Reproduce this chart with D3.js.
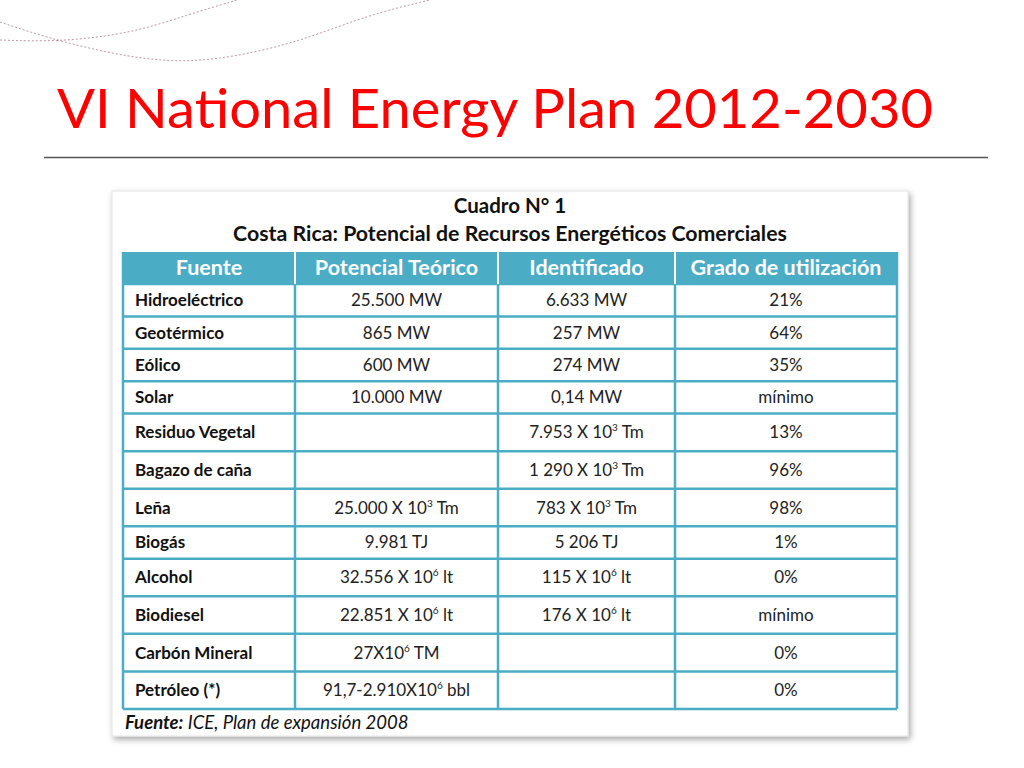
<!DOCTYPE html>
<html><head><meta charset="utf-8">
<script src="https://cdn.jsdelivr.net/npm/d3@7"></script>
<style>body{margin:0;background:#fff}svg{display:block}</style>
</head><body><div id="chart"></div>
<script>
const pageTitle = "VI National Energy Plan 2012-2030";
const cardTitle = "Cuadro N° 1";
const cardSubtitle = "Costa Rica: Potencial de Recursos Energéticos Comerciales";
const headers = ["Fuente", "Potencial Teórico", "Identificado", "Grado de utilización"];
const fuentes = ["Hidroeléctrico","Geotérmico","Eólico","Solar","Residuo Vegetal","Bagazo de caña","Leña","Biogás","Alcohol","Biodiesel","Carbón Mineral","Petróleo (*)"];
const potencialTeorico = ["25.500 MW","865 MW","600 MW","10.000 MW","","","25.000 X 10^3 Tm","9.981 TJ","32.556 X 10^6 lt","22.851 X 10^6 lt","27X10^6 TM","91,7-2.910X10^6 bbl"];
const identificado = ["6.633 MW","257 MW","274 MW","0,14 MW","7.953 X 10^3 Tm","1 290 X 10^3 Tm","783 X 10^3 Tm","5 206 TJ","115 X 10^6 lt","176 X 10^6 lt","",""];
const gradoUtilizacion = ["21%","64%","35%","mínimo","13%","96%","98%","1%","0%","mínimo","0%","0%"];
const sourceBold = "Fuente:";
const sourceText = " ICE, Plan de expansión 2008";

const W = 1024, H = 768;
const svg = d3.select("#chart").append("svg").attr("width", W).attr("height", H);
const defs = svg.append("defs");
const f = defs.append("filter").attr("id","sh").attr("x","-5%").attr("y","-5%").attr("width","112%").attr("height","112%");
f.append("feDropShadow").attr("dx",2).attr("dy",3).attr("stdDeviation",3).attr("flood-color","#000").attr("flood-opacity",0.35);

// decorative dotted curves
const deco = [
  [[0,22],[60,42],[150,62],[217,61],[300,42],[367,15],[430,0]],
  [[0,40],[60,42],[133,33],[187,15],[237,0]]
];
const line = d3.line().curve(d3.curveBasis);
svg.selectAll("path.deco").data(deco).join("path").attr("class","deco")
  .attr("d", line).attr("fill","none").attr("stroke","#b07a8c").attr("stroke-width",1)
  .attr("stroke-dasharray","2,2").attr("opacity",0.8);

// title
svg.append("text").attr("x",57).attr("y",128).attr("fill","#ff0000")
  .style("font-family","Lato, sans-serif").style("font-size","54px")
  .attr("textLength",876).attr("lengthAdjust","spacingAndGlyphs").text(pageTitle);
svg.append("line").attr("x1",44).attr("x2",988).attr("y1",157.5).attr("y2",157.5)
  .attr("stroke","#555").attr("stroke-width",1.5);

// card
svg.append("rect").attr("x",112).attr("y",191).attr("width",796).attr("height",545)
  .attr("fill","#fff").attr("stroke","#e4e4e4").attr("filter","url(#sh)");

const font = "Lato, sans-serif";
svg.append("text").attr("x",510).attr("y",213).attr("text-anchor","middle")
  .style("font-family",font).style("font-weight","bold").style("font-size","20.5px").attr("fill","#111").text(cardTitle);
svg.append("text").attr("x",510).attr("y",241).attr("text-anchor","middle")
  .style("font-family",font).style("font-weight","bold").style("font-size","21.3px").attr("fill","#111").text(cardSubtitle);

// column scale (cumulative weights)
const colW = [172, 203, 177, 222];
const colEdges = d3.cumsum([0, ...colW]);
const x = d3.scaleLinear().domain([0, colEdges[colEdges.length-1]]).range([123, 897]);

// row scale
const tall = fuentes.map((d,i) => (potencialTeorico[i]+identificado[i]).includes("^") || potencialTeorico[i]==="" ? 1.16 : 1);
const rowEdges = d3.cumsum([0, ...tall]);
const y = d3.scaleLinear().domain([0, rowEdges[rowEdges.length-1]]).range([284, 709]);
const headerTop = 252;

const teal = "#4bacc6";
// header
svg.append("rect").attr("x",x(0)).attr("y",headerTop).attr("width",x(colEdges[4])-x(0)).attr("height",y(0)-headerTop).attr("fill",teal);
svg.selectAll("text.hdr").data(headers).join("text").attr("class","hdr")
  .attr("x",(d,i)=>(x(colEdges[i])+x(colEdges[i+1]))/2).attr("y",(headerTop+y(0))/2+7)
  .attr("text-anchor","middle").attr("fill","#fff").style("font-family",font).style("font-weight","bold").style("font-size","21.5px")
  .text(d=>d);

const rows = fuentes.map((d,i)=>[d, potencialTeorico[i], identificado[i], gradoUtilizacion[i]]);
const g = svg.append("g");
function addText(sel, str){
  const parts = str.split(/(\^\d+)/).filter(p=>p);
  let pending = 0;
  parts.forEach(p=>{
    if(p[0]==="^"){
      sel.append("tspan").attr("dy",-7).style("font-size","10px").text(p.slice(1));
      pending = 7;
    } else {
      sel.append("tspan").attr("dy",pending).text(p);
      pending = 0;
    }
  });
}
rows.forEach((r,ri)=>{
  const yc = (y(rowEdges[ri])+y(rowEdges[ri+1]))/2;
  r.forEach((c,ci)=>{
    if(!c) return;
    const t = g.append("text").attr("y",yc+6).style("font-family",font).style("font-size","17px").attr("fill","#222");
    if(ci===0){ t.attr("x",x(colEdges[0])+12).style("font-weight","bold").attr("fill","#111"); }
    else { t.attr("x",(x(colEdges[ci])+x(colEdges[ci+1]))/2).attr("text-anchor","middle"); }
    addText(t,c);
  });
});
// grid lines
svg.selectAll("line.h").data(rowEdges).join("line").attr("class","h")
  .attr("x1",x(0)).attr("x2",x(colEdges[4])).attr("y1",d=>y(d)).attr("y2",d=>y(d)).attr("stroke",teal).attr("stroke-width",2.5);
svg.selectAll("line.v").data(colEdges).join("line").attr("class","v")
  .attr("x1",d=>x(d)).attr("x2",d=>x(d)).attr("y1",headerTop).attr("y2",y(rowEdges[rowEdges.length-1]))
  .attr("stroke",teal).attr("stroke-width",2.5);
// header internal separators
svg.selectAll("line.hv").data(colEdges.slice(1,4)).join("line").attr("class","hv")
  .attr("x1",d=>x(d)).attr("x2",d=>x(d)).attr("y1",headerTop).attr("y2",y(0)).attr("stroke","#fff").attr("stroke-width",2);

const src = svg.append("text").attr("x",125).attr("y",729).style("font-family",font).style("font-size","18.5px").style("font-style","italic").attr("fill","#111");
src.append("tspan").style("font-weight","bold").text(sourceBold);
src.append("tspan").text(sourceText);
</script></body></html>
